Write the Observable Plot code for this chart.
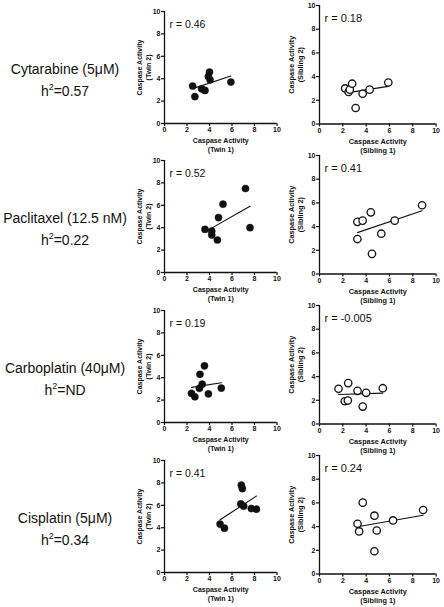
<!DOCTYPE html>
<html><head><meta charset="utf-8">
<script src="https://cdn.jsdelivr.net/npm/d3@7"></script>
<script src="https://cdn.jsdelivr.net/npm/@observablehq/plot@0.6"></script>
<style>
body{margin:0;background:#fff;font-family:"Liberation Sans",Arial,sans-serif;}
#wrap{position:relative;width:444px;height:607px;overflow:hidden;}
.panel{position:absolute;}
.panel svg{max-width:none;display:block;}
.drug{position:absolute;left:0;width:130px;text-align:center;font-size:14px;line-height:22px;color:#111;}
.drug sup{font-size:9px;line-height:0;vertical-align:6px;}
</style></head><body><div id="wrap"></div>
<script>
// labels
const drugs = ["Cytarabine (5μM)", "Paclitaxel (12.5 nM)", "Carboplatin (40μM)", "Cisplatin (5μM)"];
const h2Values = ["0.57", "0.22", "ND", "0.34"];
const twinR = ["0.46", "0.52", "0.19", "0.41"];
const sibR = ["0.18", "0.41", "-0.005", "0.24"];
const tickValues = [0, 2, 4, 6, 8, 10];

// Cytarabine
const cytTwin1 = [2.5, 2.7, 3.3, 3.6, 3.9, 4.0, 4.05, 5.9];
const cytTwin2 = [3.35, 2.4, 3.1, 2.95, 4.2, 4.6, 3.9, 3.7];
const cytSib1 = [2.2, 2.5, 2.6, 2.8, 3.1, 3.7, 4.3, 5.9];
const cytSib2 = [3.0, 2.7, 2.9, 3.4, 1.35, 2.55, 2.9, 3.5];
// Paclitaxel
const pacTwin1 = [3.6, 4.2, 4.2, 4.7, 4.8, 5.2, 7.2, 7.6];
const pacTwin2 = [3.85, 3.7, 3.35, 2.9, 4.9, 6.1, 7.5, 4.0];
const pacSib1 = [3.25, 3.7, 3.25, 4.4, 4.5, 5.3, 6.45, 8.8];
const pacSib2 = [4.4, 4.5, 2.95, 5.2, 1.7, 3.4, 4.5, 5.8];
// Carboplatin
const carTwin1 = [2.4, 2.7, 3.1, 3.15, 3.35, 3.55, 3.9, 5.05];
const carTwin2 = [2.6, 2.3, 3.05, 4.3, 3.42, 5.06, 2.56, 3.07];
const carSib1 = [1.63, 2.17, 2.43, 2.46, 3.26, 3.71, 4.0, 5.43];
const carSib2 = [2.97, 1.92, 1.98, 3.45, 2.8, 1.47, 2.63, 3.02];
// Cisplatin
const cisTwin1 = [4.94, 5.33, 6.78, 6.83, 6.92, 7.04, 7.72, 8.17];
const cisTwin2 = [4.32, 3.96, 6.12, 7.8, 7.49, 5.92, 5.71, 5.65];
const cisSib1 = [3.26, 3.4, 3.71, 4.71, 4.71, 4.91, 6.31, 8.89];
const cisSib2 = [4.24, 3.59, 6.02, 4.92, 1.92, 3.67, 4.52, 5.4];

const twinX = [cytTwin1, pacTwin1, carTwin1, cisTwin1];
const twinY = [cytTwin2, pacTwin2, carTwin2, cisTwin2];
const sibX = [cytSib1, pacSib1, carSib1, cisSib1];
const sibY = [cytSib2, pacSib2, carSib2, cisSib2];

const wrap = document.getElementById("wrap");
const INK = "#111";
const FONT = "'Liberation Sans', Arial, sans-serif";

function panel({xs, ys, open, r, xLab, yLab, left, top, plotW, plotH, mL, rSize, labSize, yLabDx}) {
  const data = xs.map((v, i) => ({x: v, y: ys[i]}));
  const mT = 8, mB = 34, mR = 8;
  const chart = Plot.plot({
    width: mL + plotW + mR,
    height: mT + plotH + mB,
    marginLeft: mL, marginRight: mR, marginTop: mT, marginBottom: mB,
    style: {fontFamily: FONT, background: "transparent", color: INK, overflow: "visible"},
    x: {domain: [0, 10]},
    y: {domain: [0, 10]},
    marks: [
      Plot.ruleX([0], {stroke: INK, strokeWidth: 1.3}),
      Plot.ruleY([0], {stroke: INK, strokeWidth: 1.3}),
      Plot.axisX({ticks: tickValues, tickSize: 3, tickPadding: 1, fontSize: 7, fontWeight: "bold", label: null, strokeWidth: 1.2, tickFormat: d => d}),
      Plot.axisY({ticks: tickValues, tickSize: 3, tickPadding: 1, fontSize: 7, fontWeight: "bold", label: null, strokeWidth: 1.2, tickFormat: d => d}),
      Plot.linearRegressionY(data, {x: "x", y: "y", ci: 0, stroke: INK, strokeWidth: 1.1}),
      Plot.dot(data, {x: "x", y: "y", r: open ? 3.7 : 3.6, fill: open ? "white" : INK, stroke: INK, strokeWidth: open ? 1.3 : 0.4}),
      Plot.text([`r = ${r}`], {text: d => d, frameAnchor: "top-left", textAnchor: "start", lineAnchor: "middle", dx: 5, dy: 13, fontSize: rSize, fill: INK}),
      Plot.text([`Caspase Activity\n(${xLab})`], {text: d => d, frameAnchor: "bottom", textAnchor: "middle", lineAnchor: "middle", dy: 21.5, fontSize: labSize, fontWeight: "bold", lineHeight: 1.25, fill: INK}),
      Plot.text([`Caspase Activity\n(${yLab})`], {text: d => d, frameAnchor: "left", textAnchor: "middle", lineAnchor: "middle", dx: yLabDx, rotate: -90, fontSize: labSize, fontWeight: "bold", lineHeight: 1.25, fill: INK})
    ]
  });
  const div = document.createElement("div");
  div.className = "panel";
  div.style.left = left + "px";
  div.style.top = (top - mT) + "px";
  div.style.width = (mL + plotW + mR) + "px";
  div.appendChild(chart);
  wrap.appendChild(div);
}

const twinTops = [10.7, 159.7, 310.3, 459.7];
const sibTops = [4.7, 155, 305, 455];

drugs.forEach((name, i) => {
  panel({xs: twinX[i], ys: twinY[i], open: false, r: twinR[i], xLab: "Twin 1", yLab: "Twin 2",
    left: 164 - 44, top: twinTops[i], plotW: 112.5, plotH: 112, mL: 44, rSize: 10.5, labSize: 7, yLabDx: -21});
  panel({xs: sibX[i], ys: sibY[i], open: true, r: sibR[i], xLab: "Sibling 1", yLab: "Sibling 2",
    left: 318.7 - 32, top: sibTops[i], plotW: 116.6, plotH: 118.5, mL: 32, rSize: 11, labSize: 7.3, yLabDx: -23.5});
  const d = document.createElement("div");
  d.className = "drug";
  const center = twinTops[i] + 56;
  d.style.top = (center - 9) + "px";
  d.innerHTML = `${name}<br>h<sup>2</sup>=${h2Values[i]}`;
  wrap.appendChild(d);
});
</script>
</body></html>
